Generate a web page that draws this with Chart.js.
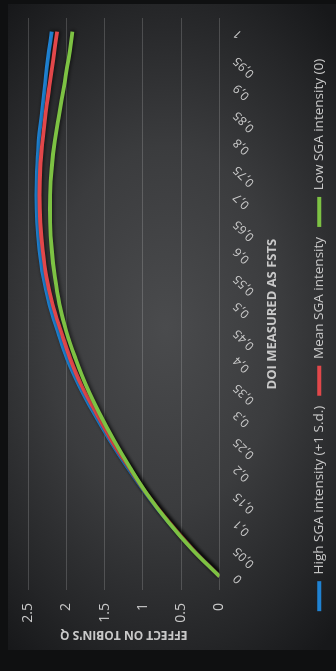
<!DOCTYPE html>
<html>
<head>
<meta charset="utf-8">
<script src="https://cdn.jsdelivr.net/npm/chart.js@4.4.0/dist/chart.umd.min.js"></script>
<style>
  html, body { margin: 0; padding: 0; width: 336px; height: 671px; overflow: hidden; background: #0f1011; }
  #slide {
    position: absolute; left: 8px; top: 4px; width: 328px; height: 646px;
    background: radial-gradient(ellipse 80% 62% at 48% 50%, #4a4b4d 0%, #3b3c3e 45%, #252628 80%, #17181a 100%);
  }
  /* chart is drawn lying on its side, like the photographed slide */
  #wrap {
    position: absolute; left: 0; top: 0; width: 671px; height: 336px;
    transform-origin: 0 0; transform: translateY(671px) rotate(-90deg);
  }
</style>
</head>
<body>
<div id="slide"></div>
<div id="wrap"><canvas id="myChart" width="671" height="336"></canvas></div>
<script>
'use strict';

// DOI measured as FSTS
const doiLabels = ['0', '0,05', '0,1', '0,15', '0,2', '0,25', '0,3', '0,35', '0,4', '0,45', '0,5',
  '0,55', '0,6', '0,65', '0,7', '0,75', '0,8', '0,85', '0,9', '0,95', '1'];

// effect on Tobin's Q
const highSga = [0, 0.35, 0.67, 0.95, 1.20, 1.43, 1.64, 1.83, 1.99, 2.11, 2.22,
  2.30, 2.35, 2.38, 2.39, 2.38, 2.36, 2.32, 2.28, 2.24, 2.19];
const meanSga = [0, 0.35, 0.66, 0.94, 1.18, 1.41, 1.61, 1.80, 1.95, 2.07, 2.18,
  2.26, 2.31, 2.34, 2.35, 2.34, 2.31, 2.27, 2.22, 2.17, 2.12];
const lowSga = [0, 0.36, 0.67, 0.94, 1.17, 1.38, 1.57, 1.74, 1.88, 2.00, 2.09,
  2.15, 2.19, 2.21, 2.21, 2.19, 2.15, 2.09, 2.03, 1.97, 1.92];

const seriesNames = ['High SGA intensity (+1 S.d.)', 'Mean SGA intensity', 'Low SGA intensity (0)'];
const qMin = 0;
const qMax = 2.5;
const qStep = 0.5;

const FONT = "'Open Sans', sans-serif";
const TEXT = '#c9c9c9';

// dark halo under the lines
const lineShadow = {
  id: 'lineShadow',
  beforeDatasetDraw(chart) {
    const c = chart.ctx;
    c.save();
    c.shadowColor = 'rgba(0,0,0,0.75)';
    c.shadowBlur = 4;
    c.shadowOffsetX = 1;
    c.shadowOffsetY = 1;
  },
  afterDatasetDraw(chart) {
    chart.ctx.restore();
  }
};

const makeSet = (label, data, color, order) => ({
  label: label,
  data: data,
  borderColor: color,
  backgroundColor: color,
  borderWidth: 3.8,
  pointRadius: 0,
  tension: 0.4,
  order: order
});

const ctx = document.getElementById('myChart').getContext('2d');
new Chart(ctx, {
  type: 'line',
  data: {
    labels: doiLabels,
    datasets: [
      makeSet(seriesNames[0], highSga, '#1f82d2', 2),
      makeSet(seriesNames[1], meanSga, '#e2474a', 1),
      makeSet(seriesNames[2], lowSga, '#7dc243', 0)
    ]
  },
  options: {
    responsive: false,
    animation: false,
    layout: { padding: { left: 19, right: 18, top: 28, bottom: 0 } },
    plugins: {
      tooltip: { enabled: false },
      legend: {
        position: 'bottom',
        labels: {
          color: TEXT,
          font: { family: FONT, size: 13.5 },
          boxWidth: 30,
          boxHeight: 4,
          padding: 10,
          sort: (a, b) => a.datasetIndex - b.datasetIndex,
          generateLabels: (chart) => {
            const items = Chart.defaults.plugins.legend.labels.generateLabels(chart);
            items.forEach(it => { it.lineWidth = 0; });
            return items;
          }
        }
      }
    },
    scales: {
      x: {
        offset: true,
        border: { display: false },
        grid: { display: false, drawTicks: false },
        ticks: {
          color: TEXT,
          font: { family: FONT, size: 12 },
          minRotation: 45,
          maxRotation: 45,
          autoSkip: false,
          padding: 11
        },
        title: {
          display: true,
          text: 'DOI MEASURED AS FSTS      ',
          color: TEXT,
          font: { family: FONT, size: 13, weight: 'bold' },
          padding: { top: 0, bottom: 22 }
        },
        afterFit: (scale) => { scale.height = 83; }
      },
      y: {
        min: qMin,
        max: qMax,
        border: { display: false },
        grid: { color: 'rgba(255,255,255,0.17)', lineWidth: 1, drawTicks: false },
        ticks: {
          stepSize: qStep,
          color: TEXT,
          font: { family: FONT, size: 14 },
          padding: 13,
          callback: (v) => String(v)
        },
        title: {
          display: true,
          text: "EFFECT ON TOBIN'S Q",
          color: TEXT,
          font: { family: FONT, size: 12, weight: 'bold' },
          padding: { top: 10, bottom: 0 }
        },
        afterFit: (scale) => { scale.width = 62; }
      }
    }
  },
  plugins: [lineShadow]
});
</script>
</body>
</html>
